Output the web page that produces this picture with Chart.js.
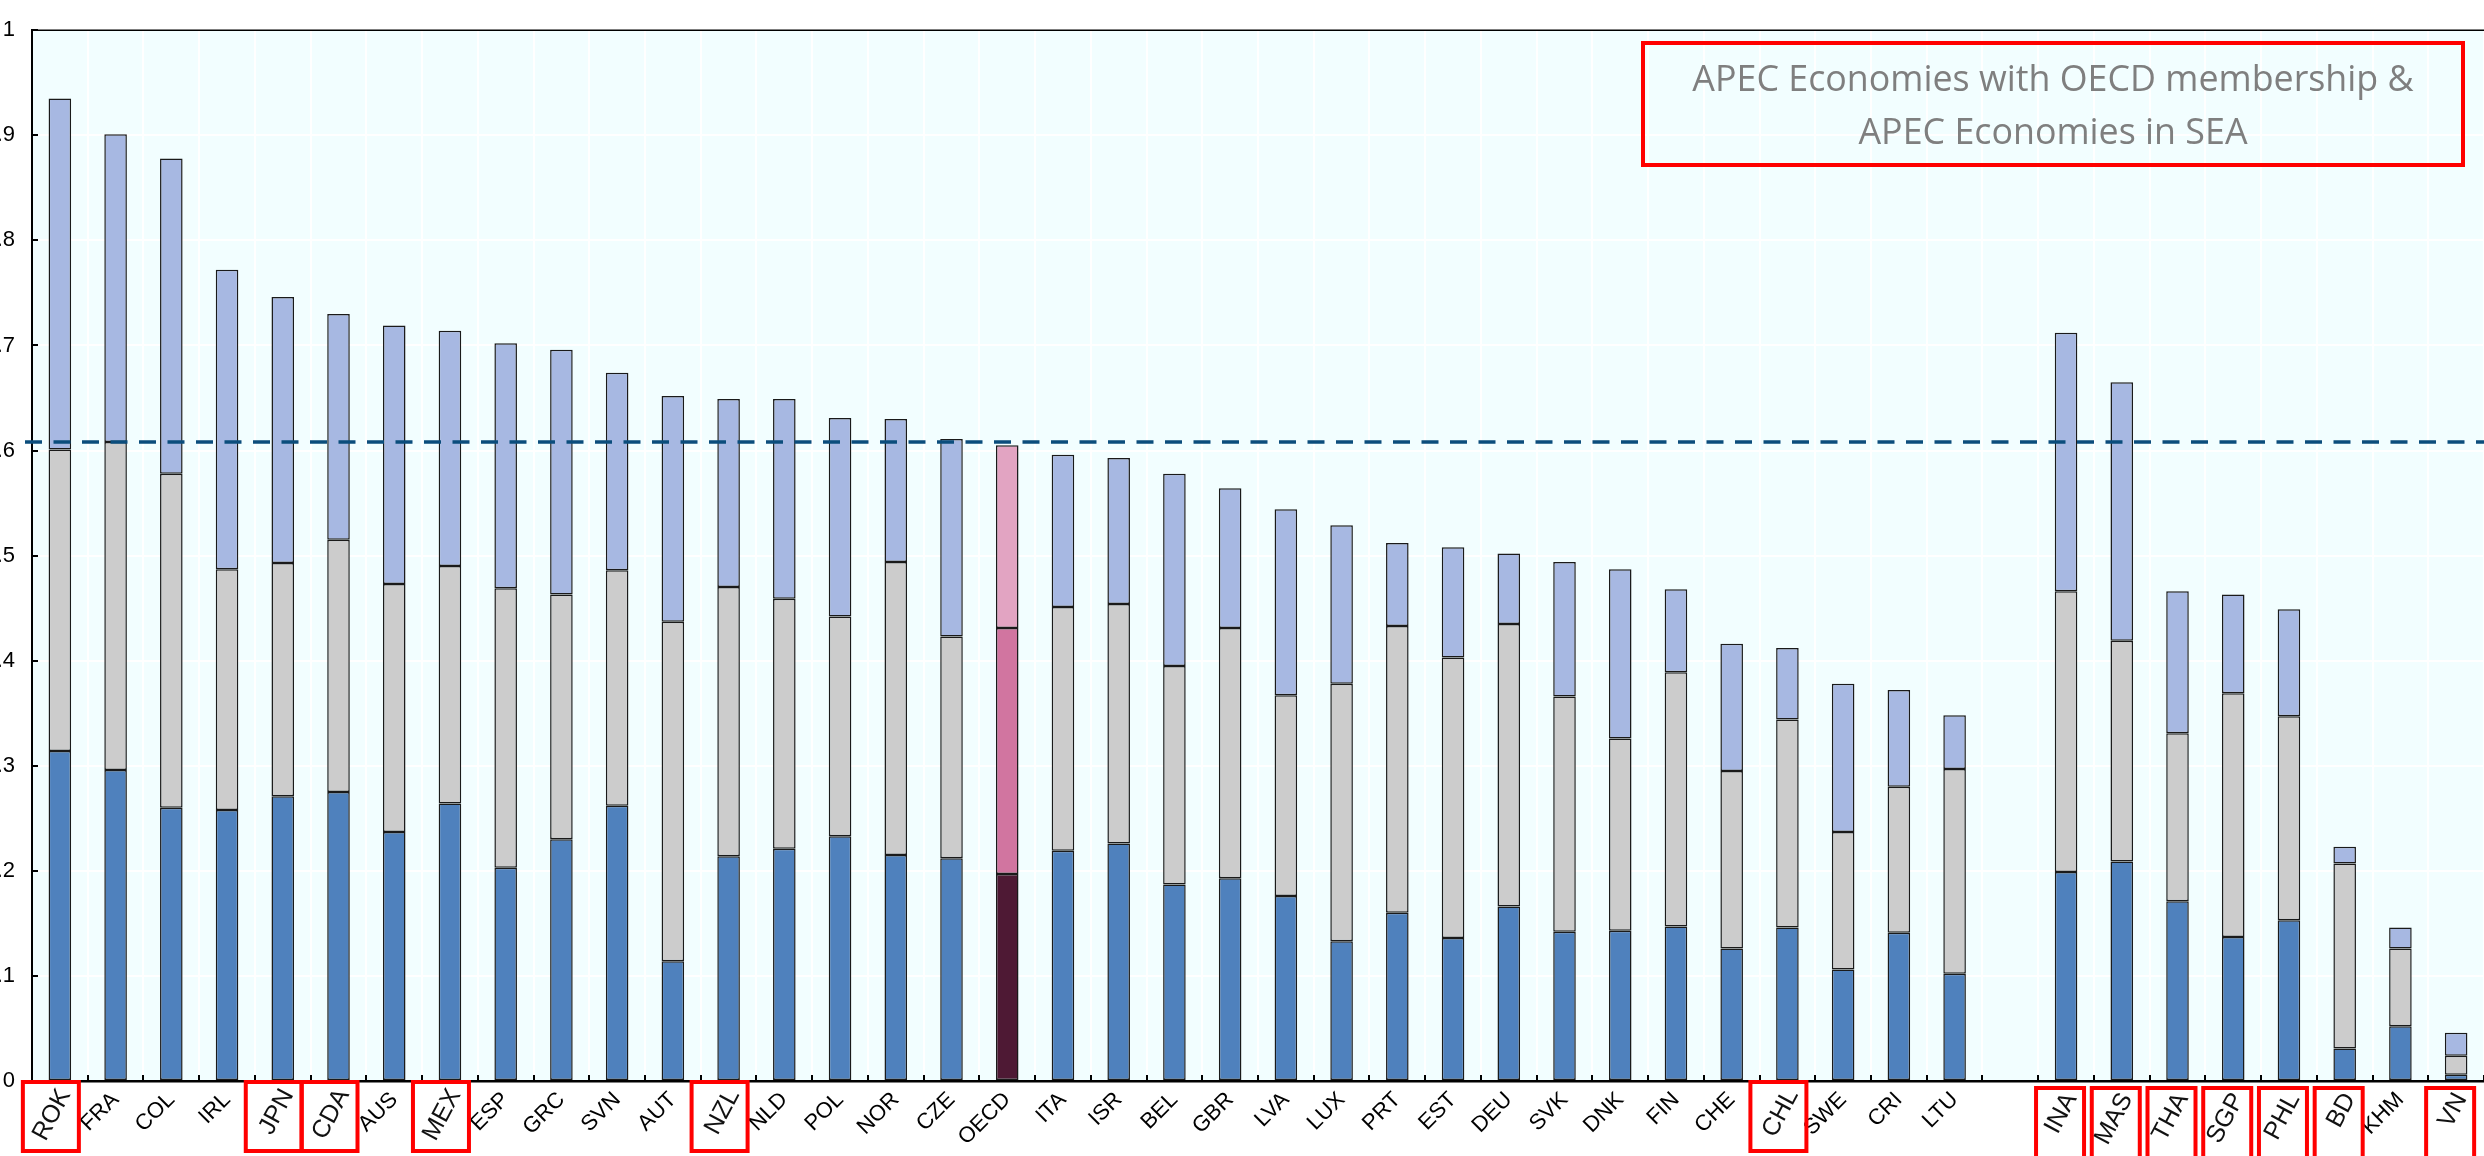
<!DOCTYPE html>
<html>
<head>
<meta charset="utf-8">
<script src="https://cdn.jsdelivr.net/npm/chart.js@4"></script>
<style>
  html, body { margin: 0; padding: 0; background: #ffffff; }
  #wrap { width: 2484px; height: 1156px; }
</style>
</head>
<body>
<div id="wrap"><canvas id="c" width="2484" height="1156"></canvas></div>
<script>
// ---------------- DATA ----------------
const LABELS = ['ROK','FRA','COL','IRL','JPN','CDA','AUS','MEX','ESP','GRC','SVN','AUT','NZL','NLD','POL','NOR','CZE','OECD','ITA','ISR','BEL','GBR','LVA','LUX','PRT','EST','DEU','SVK','DNK','FIN','CHE','CHL','SWE','CRI','LTU','','INA','MAS','THA','SGP','PHL','BD','KHM','VN'];

const SEG_BOTTOM = [0.314,0.296,0.260,0.258,0.271,0.275,0.237,0.264,0.203,0.230,0.262,0.114,0.214,0.221,0.233,0.215,0.212,0.197,0.219,0.226,0.187,0.193,0.176,0.133,0.160,0.136,0.166,0.142,0.143,0.147,0.126,0.146,0.106,0.141,0.102,null,0.199,0.209,0.171,0.137,0.153,0.031,0.052,0.006];

const SEG_MIDDLE = [0.287,0.312,0.318,0.229,0.222,0.240,0.236,0.226,0.266,0.233,0.224,0.323,0.256,0.238,0.209,0.279,0.211,0.234,0.232,0.228,0.208,0.238,0.191,0.245,0.273,0.267,0.269,0.224,0.183,0.242,0.169,0.198,0.131,0.139,0.195,null,0.267,0.210,0.160,0.232,0.194,0.176,0.074,0.018];

const SEG_TOP = [0.334,0.293,0.300,0.285,0.253,0.215,0.246,0.224,0.233,0.233,0.188,0.215,0.179,0.190,0.189,0.136,0.188,0.174,0.145,0.139,0.183,0.133,0.177,0.151,0.079,0.105,0.067,0.128,0.161,0.079,0.121,0.068,0.141,0.092,0.051,null,0.246,0.246,0.135,0.094,0.102,0.016,0.020,0.022];

const OECD_AVERAGE = 0.608;

const Y_TICKS = [0,0.1,0.2,0.3,0.4,0.5,0.6,0.7,0.8,0.9,1];
const Y_TICK_LABELS = ['0','0.1','0.2','0.3','0.4','0.5','0.6','0.7','0.8','0.9','1'];

const HIGHLIGHTED = ['ROK','JPN','CDA','MEX','NZL','CHL','INA','MAS','THA','SGP','PHL','BD','VN'];
const SEA_GROUP = ['INA','MAS','THA','SGP','PHL','BD','VN'];

const NOTE_LINES = ['APEC Economies with OECD membership &', 'APEC Economies in SEA'];

// ---------------- STYLE ----------------
const COLORS = {
  bottom: '#4F81BD', middle: '#CCCCCC', top: '#A7B8E2',
  oecdBottom: '#4E1934', oecdMiddle: '#D175A0', oecdTop: '#E2A4C2',
  plotBg: '#F2FEFF', avgLine: '#0B4D7C', box: '#FF0000', note: '#7F7F7F'
};
const TICK_FONT = "'Liberation Sans', Arial, sans-serif";

function colorFor(key, oecdKey) {
  return ctx => LABELS[ctx.dataIndex] === 'OECD' ? COLORS[oecdKey] : COLORS[key];
}

const decorPlugin = {
  id: 'decor',
  beforeDraw(chart) {
    const { ctx, chartArea: a } = chart;
    ctx.save();
    ctx.fillStyle = '#ffffff';
    ctx.fillRect(0, 0, chart.width, chart.height);
    ctx.fillStyle = COLORS.plotBg;
    ctx.fillRect(a.left, a.top, a.right - a.left, a.bottom - a.top);
    ctx.restore();
  },
  afterDatasetsDraw(chart) {
    const { ctx, chartArea: a, scales } = chart;
    const xs = scales.x, ys = scales.y;
    ctx.save();
    // inward ticks on x axis (category boundaries)
    const slot = xs.getPixelForValue(1) - xs.getPixelForValue(0);
    ctx.strokeStyle = '#000'; ctx.lineWidth = 2;
    for (let i = 0; i <= LABELS.length; i++) {
      const x = Math.round(xs.getPixelForValue(0) - slot / 2 + i * slot);
      ctx.beginPath(); ctx.moveTo(x, a.bottom); ctx.lineTo(x, a.bottom - 6); ctx.stroke();
    }
    // inward ticks on y axis
    Y_TICKS.forEach(v => {
      const y = Math.round(ys.getPixelForValue(v));
      ctx.beginPath(); ctx.moveTo(a.left, y); ctx.lineTo(a.left + 6, y); ctx.stroke();
    });
    // top frame line
    ctx.lineWidth = 1.5;
    ctx.beginPath(); ctx.moveTo(a.left, a.top); ctx.lineTo(a.right, a.top); ctx.stroke();
    // OECD average dashed line
    const yAvg = ys.getPixelForValue(OECD_AVERAGE);
    ctx.strokeStyle = COLORS.avgLine; ctx.lineWidth = 3.5;
    ctx.setLineDash([17, 11.5]);
    ctx.beginPath(); ctx.moveTo(a.left - 7, yAvg); ctx.lineTo(a.right, yAvg); ctx.stroke();
    ctx.restore();
  },
  afterDraw(chart) {
    const { ctx, chartArea: a, scales } = chart;
    const xs = scales.x;
    ctx.save();
    // highlighted labels with red boxes
    HIGHLIGHTED.forEach(lab => {
      const i = LABELS.indexOf(lab);
      const cx = xs.getPixelForValue(i);
      const sea = SEA_GROUP.includes(lab);
      const w = sea ? 48 : 56;
      const top = a.bottom + (sea ? 7 : 1);
      const bottom = sea ? chart.height + 2 : a.bottom + 70;
      const bx = cx - (sea ? 6 : 9) - w / 2;
      ctx.font = "25px " + TICK_FONT;
      ctx.fillStyle = '#111';
      ctx.save();
      ctx.translate(cx + 5, a.bottom + (sea ? 14 : 10));
      ctx.rotate(-62 * Math.PI / 180);
      ctx.textAlign = 'right';
      ctx.textBaseline = 'middle';
      ctx.fillText(lab, 0, 0);
      ctx.restore();
      ctx.strokeStyle = COLORS.box; ctx.lineWidth = 4;
      ctx.strokeRect(bx, top, w, bottom - top);
    });
    // note box
    const boxL = 1643, boxT = 43, boxR = 2463, boxB = 165;
    ctx.strokeStyle = COLORS.box; ctx.lineWidth = 4;
    ctx.strokeRect(boxL, boxT, boxR - boxL, boxB - boxT);
    ctx.font = "36px 'Open Sans', sans-serif";
    const m = ctx.measureText(NOTE_LINES[0]).width;
    const size = 36 * 722 / m;
    ctx.font = size.toFixed(1) + "px 'Open Sans', sans-serif";
    ctx.fillStyle = COLORS.note;
    ctx.textAlign = 'center';
    ctx.textBaseline = 'alphabetic';
    const cxn = (boxL + boxR) / 2;
    ctx.fillText(NOTE_LINES[0], cxn, 91);
    ctx.fillText(NOTE_LINES[1], cxn, 144);
    ctx.restore();
  }
};

const common = { borderColor: '#1a1a1a', borderWidth: 1.5, borderSkipped: false, categoryPercentage: 1, barPercentage: 0.405 };

new Chart(document.getElementById('c'), {
  type: 'bar',
  data: {
    labels: LABELS,
    datasets: [
      Object.assign({ label: 'Bottom', data: SEG_BOTTOM, backgroundColor: colorFor('bottom', 'oecdBottom') }, common),
      Object.assign({ label: 'Middle', data: SEG_MIDDLE, backgroundColor: colorFor('middle', 'oecdMiddle') }, common),
      Object.assign({ label: 'Top', data: SEG_TOP, backgroundColor: colorFor('top', 'oecdTop') }, common)
    ]
  },
  options: {
    responsive: false,
    animation: false,
    devicePixelRatio: 1,
    layout: { padding: { top: 17, right: 0, left: 0, bottom: 0 } },
    plugins: { legend: { display: false }, tooltip: { enabled: false } },
    scales: {
      x: {
        stacked: true,
        afterFit: s => { s.height = 75; },
        grid: { color: '#ffffff', lineWidth: 2, drawTicks: false, offset: true },
        border: { color: '#000', width: 2.5 },
        ticks: {
          autoSkip: false, maxRotation: 45, minRotation: 45, padding: 6,
          color: '#000', font: { size: 22, family: TICK_FONT },
          callback: (v, i) => HIGHLIGHTED.includes(LABELS[i]) ? '' : LABELS[i]
        }
      },
      y: {
        stacked: true, min: 0, max: 1,
        afterFit: s => { s.width = 32; },
        afterBuildTicks: s => { s.ticks = Y_TICKS.map(v => ({ value: v })); },
        grid: { color: '#ffffff', lineWidth: 2, drawTicks: false },
        border: { color: '#000', width: 2 },
        ticks: {
          padding: 17, color: '#000', font: { size: 22, family: TICK_FONT },
          callback: v => Y_TICK_LABELS[Y_TICKS.indexOf(Math.round(v * 10) / 10)]
        }
      }
    }
  },
  plugins: [decorPlugin]
});
</script>
</body>
</html>
